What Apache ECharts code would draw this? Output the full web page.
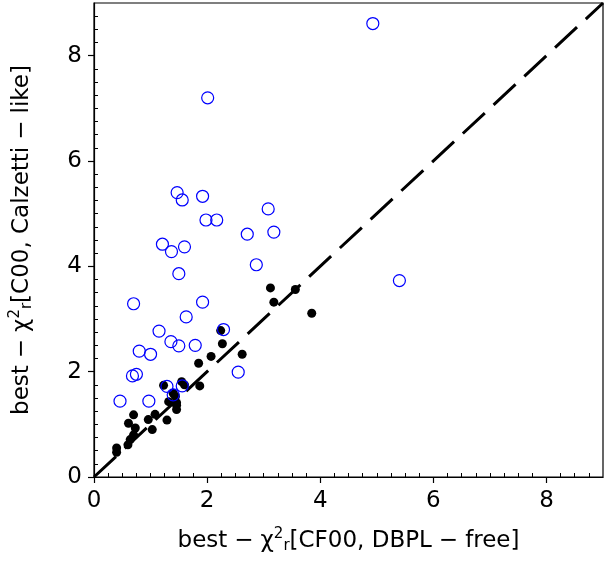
<!DOCTYPE html>
<html>
<head>
<meta charset="utf-8">
<script src="https://cdn.jsdelivr.net/npm/echarts@6/dist/echarts.min.js"></script>
<style>html,body{margin:0;padding:0;background:#fff}#c{width:612px;height:561px}</style>
</head>
<body>
<div id="c"></div>
<script>
var tickValues = [0, 2, 4, 6, 8];
var lineX = [0, 9];
var lineY = [0, 9];
var openCircles = [
  [4.93,8.61],[2.01,7.20],[5.40,3.73],[1.47,5.40],[1.56,5.26],[1.92,5.33],[1.98,4.88],[2.17,4.88],
  [3.08,5.09],[3.18,4.65],[2.71,4.61],[1.21,4.42],[1.37,4.28],[1.60,4.37],[1.50,3.86],[2.87,4.03],
  [0.70,3.29],[1.92,3.32],[1.63,3.04],[1.15,2.77],[2.29,2.80],[1.36,2.57],[1.50,2.49],[1.79,2.50],
  [0.80,2.39],[1.00,2.33],[0.68,1.92],[0.75,1.95],[2.55,1.99],[1.29,1.72],[1.40,1.56],[1.56,1.73],
  [0.46,1.44],[0.97,1.44]
];
var filledDots = [
  [3.12,3.59],[3.56,3.56],[3.18,3.32],[3.85,3.11],[2.24,2.78],[2.27,2.53],[2.07,2.29],[2.62,2.33],
  [1.85,2.16],[1.87,1.73],[1.23,1.74],[1.55,1.81],[1.60,1.75],[1.40,1.59],[1.32,1.43],[1.46,1.41],
  [1.44,1.53],[1.46,1.36],[1.46,1.28],[1.29,1.08],[1.08,1.19],[0.96,1.09],[1.03,0.90],[0.70,1.18],
  [0.61,1.02],[0.73,0.93],[0.70,0.80],[0.64,0.71],[0.60,0.61],[0.40,0.55],[0.40,0.47]
];

var F = 'DejaVu Sans';
var rich = {
  n: {fontSize: 23, fontFamily: F, color: '#000'},
  m: {fontSize: 23, fontFamily: F, color: '#000', padding: [0, 7, 0, 7]},
  sup: {fontSize: 15, fontFamily: F, color: '#000', padding: [0, 0, 13, 0]},
  sub: {fontSize: 15, fontFamily: F, color: '#000', padding: [11, 0, 0, 0]}
};
function axisCommon(name, gap, margin) {
  return {
    type: 'value', min: 0, max: 9, interval: 2,
    name: name, nameLocation: 'middle', nameGap: gap,
    nameTextStyle: {rich: rich},
    axisLine: {show: true, onZero: false, lineStyle: {color: '#000', width: 1.2}},
    axisTick: {show: true, length: 6, lineStyle: {color: '#000', width: 1.2}, customValues: tickValues},
    minorTick: {show: true, splitNumber: 8, length: -4, lineStyle: {color: '#000', width: 1}},
    axisLabel: {fontSize: 23, fontFamily: F, color: '#000', margin: margin, customValues: tickValues},
    splitLine: {show: false}
  };
}
var xAx = axisCommon('{n|best}{m|−}{n|χ}{sup|2}{sub|r}{n|[CF00, DBPL}{m|−}{n|free]}', 50, 13);
var yAx = axisCommon('{n|best}{m|−}{n|χ}{sup|2}{sub|r}{n|[C00, Calzetti}{m|−}{n|like]}', 58, 12);
yAx.nameRotate = 90;

var chart = echarts.init(document.getElementById('c'));
chart.setOption({
  animation: false,
  backgroundColor: '#fff',
  grid: {left: 92, top: 3, right: 9, bottom: 84, show: true, borderColor: '#000', borderWidth: 1.2, backgroundColor: 'transparent'},
  xAxis: xAx,
  yAxis: yAx,
  series: [
    {
      type: 'line', data: lineX.map(function (v, i) { return [v, lineY[i]]; }),
      symbol: 'none', silent: true,
      lineStyle: {color: '#000', width: 3, type: [30, 12]}, z: 1
    },
    {
      type: 'scatter', data: filledDots, symbol: 'circle', symbolSize: 9,
      itemStyle: {color: '#000', opacity: 1}, z: 2
    },
    {
      type: 'scatter', data: openCircles, symbol: 'circle', symbolSize: 12,
      itemStyle: {color: 'rgba(0,0,0,0)', borderColor: '#0000ff', borderWidth: 1.2, opacity: 1}, z: 3
    }
  ]
});
</script>
</body>
</html>
